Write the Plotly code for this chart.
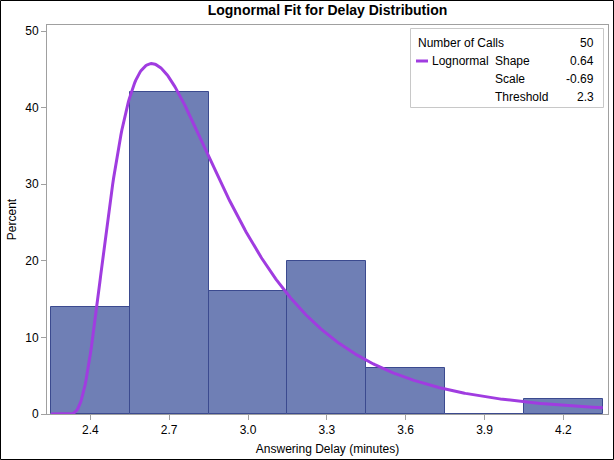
import numpy as np
import plotly.graph_objects as go

# Data
bin_midpoints = [2.4, 2.7, 3.0, 3.3, 3.6, 3.9, 4.2]
percents = [14, 42, 16, 20, 6, 0, 2]
bin_width = 0.3
n_calls = 50
shape_sigma = 0.64
scale_zeta = -0.69
threshold_theta = 2.3
x_ticks = [2.4, 2.7, 3.0, 3.3, 3.6, 3.9, 4.2]
x_tick_labels = ["2.4", "2.7", "3.0", "3.3", "3.6", "3.9", "4.2"]
y_ticks = [0, 10, 20, 30, 40, 50]

# Fitted lognormal density on percent scale
x0 = bin_midpoints[0] - bin_width / 2
x1 = bin_midpoints[-1] + bin_width / 2
xc = np.linspace(x0, x1, 600)
yc = np.zeros_like(xc)
m = xc > threshold_theta
d = xc[m] - threshold_theta
yc[m] = (100 * bin_width / (d * shape_sigma * np.sqrt(2 * np.pi))
         * np.exp(-(np.log(d) - scale_zeta) ** 2 / (2 * shape_sigma ** 2)))

W, H = 614, 460
L, R, T, B = 47, 6, 25, 46
pw, ph = W - L - R, H - T - B

def px(x):
    return (x - L) / pw

def py(y):
    return (H - B - y) / ph

FONT = "Liberation Sans, Arial, sans-serif"
CURVE = "#A03CE0"

fig = go.Figure()
fig.add_trace(go.Bar(
    x=bin_midpoints, y=percents, width=bin_width,
    marker=dict(color="#6F7FB5", line=dict(color="#3B4A8F", width=1)),
    showlegend=False, hoverinfo="skip"))
fig.add_trace(go.Scatter(
    x=xc, y=yc, mode="lines", line=dict(color=CURVE, width=3),
    showlegend=False, hoverinfo="skip"))

shapes = [
    # outer black border
    dict(type="rect", xref="paper", yref="paper",
         x0=px(0.5), x1=px(W - 0.5), y0=py(H - 0.5), y1=py(0.5),
         line=dict(color="black", width=1), layer="above"),
    # inset legend box
    dict(type="rect", xref="paper", yref="paper",
         x0=px(410.5), x1=px(603.5), y0=py(107.5), y1=py(28.5),
         line=dict(color="#C8C8C8", width=1), fillcolor="white", layer="above"),
    dict(type="line", xref="paper", yref="paper",
         x0=px(416), x1=px(428), y0=py(61), y1=py(61),
         line=dict(color=CURVE, width=3), layer="above"),
]

annotations = []
def txt(x, y, s, anchor):
    annotations.append(dict(xref="paper", yref="paper", x=px(x), y=py(y),
                            text=s, showarrow=False, xanchor=anchor,
                            yanchor="middle", font=dict(family=FONT, size=12, color="black")))

txt(416, 43, "Number of Calls", "left")
txt(596, 43, str(n_calls), "right")
txt(430, 61, "Lognormal", "left")
txt(493, 61, "Shape", "left")
txt(596, 61, f"{shape_sigma:.2f}", "right")
txt(493, 79, "Scale", "left")
txt(596, 79, f"{scale_zeta:.2f}", "right")
txt(493, 97, "Threshold", "left")
txt(596, 97, f"{threshold_theta:g}", "right")

fig.update_layout(
    width=W, height=H,
    margin=dict(l=L, r=R, t=T, b=B, pad=0),
    paper_bgcolor="white", plot_bgcolor="white",
    font=dict(family=FONT, size=12, color="black"),
    title=dict(text="<b>Lognormal Fit for Delay Distribution</b>",
               x=0.5, xanchor="center", xref="paper",
               y=1 - 10 / H, yanchor="middle", yref="container",
               font=dict(family=FONT, size=14, color="black")),
    bargap=0,
    shapes=shapes,
    annotations=annotations,
    xaxis=dict(range=[x0 - 0.015, x1 + 0.02], tickvals=x_ticks, ticktext=x_tick_labels,
               ticks="outside", ticklen=5, tickcolor="#A0A0A0",
               showline=True, linecolor="#A0A0A0", mirror=True, showgrid=False,
               zeroline=False, tickfont=dict(size=12),
               title=dict(text="Answering Delay (minutes)", font=dict(size=12), standoff=8)),
    yaxis=dict(range=[0, 50.8], tickvals=y_ticks,
               ticks="outside", ticklen=5, tickcolor="#A0A0A0",
               showline=True, linecolor="#A0A0A0", mirror=True, showgrid=False,
               zeroline=False, tickfont=dict(size=12),
               title=dict(text="Percent", font=dict(size=12), standoff=6)),
)

fig.write_html("out.html", config={"displayModeBar": False},
               post_script="document.body.style.margin='0';document.body.style.overflow='hidden';")
